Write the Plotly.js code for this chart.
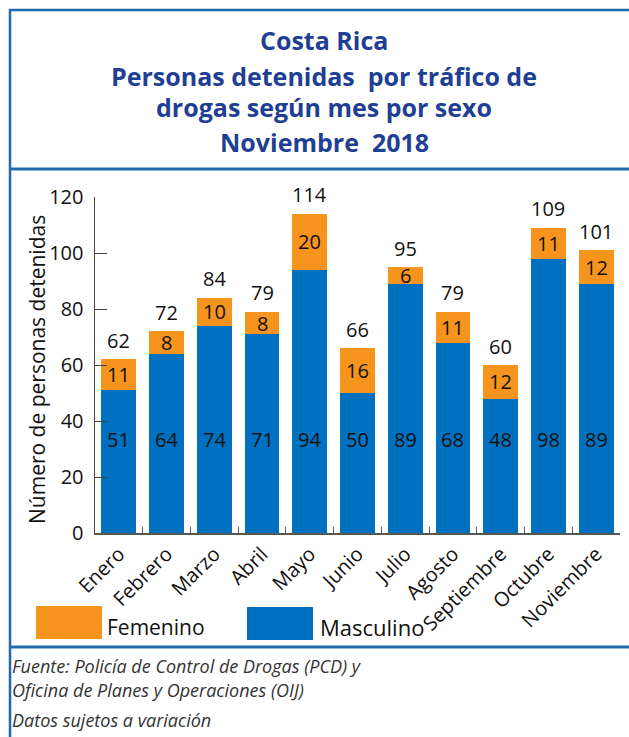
<!DOCTYPE html>
<html>
<head>
<meta charset="utf-8">
<script src="https://cdn.plot.ly/plotly-3.0.1.min.js"></script>
<style>
  html, body { margin: 0; padding: 0; background: #fff; }
  #plot { width: 629px; height: 737px; }
</style>
</head>
<body>
<div id="plot"></div>
<script>
// data
var meses = ['Enero', 'Febrero', 'Marzo', 'Abril', 'Mayo', 'Junio', 'Julio',
             'Agosto', 'Septiembre', 'Octubre', 'Noviembre'];
var masculino = [51, 64, 74, 71, 94, 50, 89, 68, 48, 98, 89];
var femenino  = [11, 8, 10, 8, 20, 16, 6, 11, 12, 11, 12];
var totales   = [62, 72, 84, 79, 114, 66, 95, 79, 60, 109, 101];
var series    = ['Femenino', 'Masculino'];

var titulo = ['Costa Rica', 'Personas detenidas  por tráfico de',
              'drogas según mes por sexo', 'Noviembre  2018'];
var nota = ['Fuente: Policía de Control de Drogas (PCD) y',
            'Oficina de Planes y Operaciones (OIJ)',
            'Datos sujetos a variación'];

var azul = '#0070c0';
var naranja = '#f7941d';
var borde = '#1f6aad';
var tituloColor = '#1f3f94';
var fuente = 'Open Sans, sans-serif';

// plot area in pixels: x 95..620, y 197..533
var L = 95, R = 620, T = 197, B = 533;
function px(x) { return (x - L) / (R - L); }
function py(y) { return (B - y) / (B - T); }

var trace1 = {
  x: meses,
  y: masculino,
  name: series[1],
  type: 'bar',
  marker: { color: azul }
};
var trace2 = {
  x: meses,
  y: femenino,
  name: series[0],
  type: 'bar',
  marker: { color: naranja }
};

var annotations = [];
meses.forEach(function (m, i) {
  // masculine value, all at the same height
  annotations.push({ x: m, y: 33.5, xref: 'x', yref: 'y', text: String(masculino[i]),
    showarrow: false, font: { family: fuente, size: 20, color: '#111' } });
  // feminine value, middle of the orange part
  annotations.push({ x: m, y: masculino[i] + femenino[i] / 2, xref: 'x', yref: 'y',
    text: String(femenino[i]), showarrow: false,
    font: { family: fuente, size: 20, color: '#111' } });
  // total above bar
  annotations.push({ x: m, y: totales[i], xref: 'x', yref: 'y', yshift: 19,
    text: String(totales[i]), showarrow: false,
    font: { family: fuente, size: 20, color: '#111' } });
});

// title lines
var titY = [40, 76, 107, 142];
titulo.forEach(function (t, i) {
  annotations.push({ x: px(324), y: py(titY[i]), xref: 'paper', yref: 'paper',
    text: '<b>' + t + '</b>', showarrow: false, xanchor: 'center', yanchor: 'middle',
    font: { family: fuente, size: 25, color: tituloColor } });
});

// y axis title
annotations.push({ x: px(37), y: py(370), xref: 'paper', yref: 'paper',
  text: 'Número de personas detenidas', textangle: -90, showarrow: false,
  xanchor: 'center', yanchor: 'middle',
  font: { family: fuente, size: 21, color: '#111' } });

// legend
annotations.push({ x: px(105), y: py(627), xref: 'paper', yref: 'paper', text: series[0],
  showarrow: false, xanchor: 'left', yanchor: 'middle',
  font: { family: fuente, size: 21, color: '#111' } });
annotations.push({ x: px(318), y: py(627), xref: 'paper', yref: 'paper', text: series[1],
  showarrow: false, xanchor: 'left', yanchor: 'middle',
  font: { family: fuente, size: 22, color: '#111' } });

// footnote
var notaY = [666, 690, 720];
nota.forEach(function (t, i) {
  annotations.push({ x: px(10), y: py(notaY[i]), xref: 'paper', yref: 'paper',
    text: '<i>' + t + '</i>', showarrow: false, xanchor: 'left', yanchor: 'middle',
    font: { family: fuente, size: 18, color: '#333' } });
});

var shapes = [
  // frame
  { type: 'rect', xref: 'paper', yref: 'paper', x0: px(10), x1: px(660), y0: py(10), y1: py(760),
    line: { color: borde, width: 2.5 } },
  { type: 'line', xref: 'paper', yref: 'paper', x0: px(10), x1: px(660), y0: py(169), y1: py(169),
    line: { color: borde, width: 3 } },
  { type: 'line', xref: 'paper', yref: 'paper', x0: px(10), x1: px(660), y0: py(647), y1: py(647),
    line: { color: borde, width: 3 } },
  // legend swatches
  { type: 'rect', xref: 'paper', yref: 'paper', x0: px(36), x1: px(102), y0: py(606), y1: py(639),
    fillcolor: naranja, line: { width: 0 } },
  { type: 'rect', xref: 'paper', yref: 'paper', x0: px(247), x1: px(313), y0: py(607), y1: py(640),
    fillcolor: azul, line: { width: 0 } }
];

var layout = {
  width: 629,
  height: 737,
  margin: { l: L, r: 629 - R, t: T, b: 737 - B },
  barmode: 'stack',
  bargap: 0.27,
  showlegend: false,
  paper_bgcolor: '#fff',
  plot_bgcolor: '#fff',
  font: { family: fuente, color: '#111' },
  xaxis: {
    type: 'category',
    tickson: 'boundaries',
    ticks: 'inside',
    ticklen: 6,
    tickcolor: '#555',
    showline: true,
    linecolor: '#555',
    linewidth: 1.5,
    tickangle: -45,
    tickfont: { family: fuente, size: 20, color: '#111' },
    showgrid: false,
    fixedrange: true
  },
  yaxis: {
    range: [0, 120],
    tickvals: [0, 20, 40, 60, 80, 100, 120],
    ticks: 'inside',
    ticklen: 12,
    tickcolor: '#444',
    showline: true,
    linecolor: '#444',
    linewidth: 1.5,
    ticklabelstandoff: 6,
    tickfont: { family: fuente, size: 20, color: '#111' },
    showgrid: false,
    zeroline: false,
    fixedrange: true
  },
  annotations: annotations,
  shapes: shapes
};

Plotly.newPlot('plot', [trace1, trace2], layout, { displayModeBar: false, staticPlot: true });
</script>
</body>
</html>
